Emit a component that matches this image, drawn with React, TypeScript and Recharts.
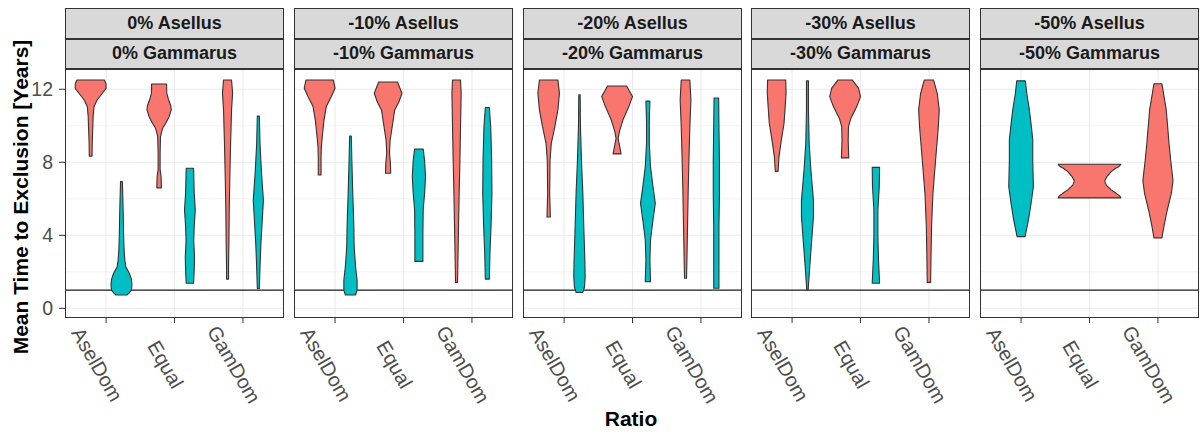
import { ComposedChart, Scatter, XAxis, YAxis, CartesianGrid, ReferenceLine } from 'recharts';

const RED = '#F8766D';
const TEAL = '#00BFC4';
const INK = '#333333';
const FONT = 'Arial, "Liberation Sans", Helvetica, sans-serif';

const stripAsellus = ['0% Asellus', '-10% Asellus', '-20% Asellus', '-30% Asellus', '-50% Asellus'];
const stripGammarus = ['0% Gammarus', '-10% Gammarus', '-20% Gammarus', '-30% Gammarus', '-50% Gammarus'];
const ratios = ['AselDom', 'Equal', 'GamDom'];
const yTicks = [0, 4, 8, 12];
const yMinor = [2, 6, 10];
const exclusionLine = 1;

// violin profiles: [mean time to exclusion, relative half-width], top to bottom
const red0Asel = [[12.51, 0.89], [12.3, 1.0], [12.05, 1.0], [11.78, 0.76], [11.41, 0.42], [11.05, 0.22], [10.5, 0.16], [9.95, 0.14], [9.04, 0.1], [8.34, 0.09]];
const teal0Asel = [[6.94, 0.06], [6.0, 0.09], [5.0, 0.12], [4.0, 0.14], [3.2, 0.17], [2.64, 0.22], [2.27, 0.28], [1.91, 0.52], [1.6, 0.64], [1.33, 0.68], [1.0, 0.65], [0.82, 0.48], [0.73, 0.35]];
const red0Equal = [[12.29, 0.49], [12.0, 0.49], [11.78, 0.5], [11.41, 0.62], [11.1, 0.76], [10.87, 0.79], [10.5, 0.65], [10.14, 0.43], [9.9, 0.25], [9.68, 0.17], [9.4, 0.09], [8.5, 0.065], [7.6, 0.065], [7.2, 0.13], [6.6, 0.15]];
const teal0Equal = [[7.67, 0.24], [7.0, 0.26], [6.3, 0.28], [5.4, 0.35], [4.5, 0.28], [3.7, 0.25], [2.8, 0.3], [2.1, 0.28], [1.37, 0.24]];
const red0Gam = [[12.51, 0.26], [11.78, 0.33], [10.87, 0.26], [9.04, 0.2], [7.2, 0.15], [5.4, 0.11], [3.6, 0.09], [2.3, 0.065], [1.6, 0.065]];
const teal0Gam = [[10.53, 0.065], [9.0, 0.11], [7.5, 0.2], [5.9, 0.33], [5.2, 0.28], [3.6, 0.17], [2.3, 0.11], [1.09, 0.065]];

const red10Asel = [[12.51, 0.89], [12.06, 1.0], [11.6, 0.76], [11.05, 0.43], [10.3, 0.28], [9.4, 0.17], [8.86, 0.11], [8.3, 0.09], [7.3, 0.09]];
const teal10Asel = [[9.44, 0.055], [8.1, 0.09], [6.3, 0.15], [4.5, 0.22], [3.4, 0.24], [2.3, 0.33], [1.55, 0.43], [1.0, 0.43], [0.73, 0.33]];
const red10Equal = [[12.4, 0.61], [11.78, 0.9], [11.3, 0.7], [10.87, 0.43], [10.14, 0.3], [9.2, 0.13], [8.5, 0.09], [7.96, 0.15], [7.4, 0.17]];
const teal10Equal = [[8.72, 0.28], [8.1, 0.37], [7.2, 0.43], [6.3, 0.37], [5.4, 0.28], [4.1, 0.26], [3.2, 0.26], [2.57, 0.26]];
const red10Gam = [[12.51, 0.26], [11.78, 0.3], [9.95, 0.26], [8.1, 0.22], [6.3, 0.17], [4.5, 0.13], [2.6, 0.09], [1.42, 0.065]];
const teal10Gam = [[11.0, 0.13], [9.95, 0.22], [8.1, 0.28], [6.3, 0.3], [4.5, 0.24], [3.05, 0.17], [1.6, 0.13]];

const red20Asel = [[12.51, 0.6], [11.78, 0.7], [10.87, 0.6], [9.95, 0.4], [9.04, 0.17], [8.1, 0.09], [6.3, 0.065], [5.6, 0.09], [5.0, 0.11]];
const teal20Asel = [[11.7, 0.045], [9.95, 0.065], [8.1, 0.13], [6.3, 0.22], [4.5, 0.28], [2.64, 0.35], [1.73, 0.37], [1.18, 0.33], [0.87, 0.22]];
const red20Equal = [[12.18, 0.62], [11.6, 1.0], [11.05, 0.76], [10.3, 0.37], [9.68, 0.15], [9.3, 0.065], [8.95, 0.15], [8.46, 0.26]];
const teal20Equal = [[11.35, 0.13], [10.32, 0.09], [9.04, 0.09], [7.76, 0.17], [6.67, 0.33], [5.75, 0.48], [4.84, 0.33], [3.74, 0.17], [2.64, 0.13], [1.46, 0.17]];
const red20Gam = [[12.51, 0.28], [11.41, 0.35], [9.95, 0.28], [8.1, 0.22], [6.3, 0.17], [4.5, 0.13], [2.64, 0.09], [1.65, 0.065]];
const teal20Gam = [[11.52, 0.15], [9.95, 0.17], [8.1, 0.2], [6.3, 0.2], [4.5, 0.17], [2.64, 0.17], [1.1, 0.17]];

const red30Asel = [[12.51, 0.59], [11.78, 0.61], [10.87, 0.54], [10.14, 0.48], [9.2, 0.3], [8.3, 0.15], [7.5, 0.09]];
const teal30Asel = [[12.47, 0.065], [10.87, 0.065], [9.04, 0.11], [7.6, 0.22], [5.9, 0.39], [5.0, 0.39], [3.56, 0.26], [2.3, 0.15], [1.0, 0.045]];
const red30Equal = [[12.51, 0.46], [12.06, 0.87], [11.6, 1.0], [11.05, 0.76], [10.4, 0.37], [9.95, 0.22], [9.22, 0.2], [8.7, 0.22], [8.24, 0.24]];
const teal30Equal = [[7.72, 0.24], [6.67, 0.22], [5.4, 0.13], [3.9, 0.13], [2.64, 0.17], [1.37, 0.24]];
const red30Gam = [[12.51, 0.3], [11.78, 0.54], [10.87, 0.67], [9.95, 0.61], [8.1, 0.43], [6.3, 0.26], [4.5, 0.17], [2.64, 0.13], [1.42, 0.11]];

const teal50Asel = [[12.46, 0.28], [11.78, 0.37], [10.87, 0.54], [9.95, 0.67], [9.22, 0.76], [8.1, 0.76], [6.67, 0.8], [5.75, 0.65], [4.84, 0.48], [3.93, 0.26]];
const red50Equal = [[7.89, 2.04], [7.76, 1.9], [7.67, 1.7], [7.49, 1.41], [7.21, 1.13], [6.98, 0.98], [6.75, 1.09], [6.49, 1.41], [6.3, 1.74], [6.16, 1.96], [6.05, 2.04]];
const red50Gam = [[12.3, 0.26], [10.87, 0.54], [9.04, 0.72], [8.1, 0.83], [7.0, 0.98], [6.3, 0.87], [5.4, 0.61], [4.5, 0.39], [3.86, 0.26]];

type Violin = { ratio: number; fill: string; side: number; profile: number[][] };

// side: -1 / +1 dodged pair, 0 when only one group is present at that ratio
const panels: Violin[][] = [
  [
    { ratio: 1, fill: RED, side: -1, profile: red0Asel },
    { ratio: 1, fill: TEAL, side: 1, profile: teal0Asel },
    { ratio: 2, fill: RED, side: -1, profile: red0Equal },
    { ratio: 2, fill: TEAL, side: 1, profile: teal0Equal },
    { ratio: 3, fill: RED, side: -1, profile: red0Gam },
    { ratio: 3, fill: TEAL, side: 1, profile: teal0Gam },
  ],
  [
    { ratio: 1, fill: RED, side: -1, profile: red10Asel },
    { ratio: 1, fill: TEAL, side: 1, profile: teal10Asel },
    { ratio: 2, fill: RED, side: -1, profile: red10Equal },
    { ratio: 2, fill: TEAL, side: 1, profile: teal10Equal },
    { ratio: 3, fill: RED, side: -1, profile: red10Gam },
    { ratio: 3, fill: TEAL, side: 1, profile: teal10Gam },
  ],
  [
    { ratio: 1, fill: RED, side: -1, profile: red20Asel },
    { ratio: 1, fill: TEAL, side: 1, profile: teal20Asel },
    { ratio: 2, fill: RED, side: -1, profile: red20Equal },
    { ratio: 2, fill: TEAL, side: 1, profile: teal20Equal },
    { ratio: 3, fill: RED, side: -1, profile: red20Gam },
    { ratio: 3, fill: TEAL, side: 1, profile: teal20Gam },
  ],
  [
    { ratio: 1, fill: RED, side: -1, profile: red30Asel },
    { ratio: 1, fill: TEAL, side: 1, profile: teal30Asel },
    { ratio: 2, fill: RED, side: -1, profile: red30Equal },
    { ratio: 2, fill: TEAL, side: 1, profile: teal30Equal },
    { ratio: 3, fill: RED, side: 0, profile: red30Gam },
  ],
  [
    { ratio: 1, fill: TEAL, side: 0, profile: teal50Asel },
    { ratio: 2, fill: RED, side: 0, profile: red50Equal },
    { ratio: 3, fill: RED, side: 0, profile: red50Gam },
  ],
];

const DODGE = 0.225; // half of the 0.9 dodge width
const HALF_W = 0.225; // half-width of a violin at relative density 1

const PANEL_LEFT = [65, 294, 523, 751, 980];
const PANEL_W = 219;
const STRIP_TOP = 8;
const STRIP_H = 30.5;
const PLOT_TOP = 69;
const PLOT_H = 249;
const CHART_H = 432 - PLOT_TOP;
const Y_AXIS_W = 65;

// closed outline: right edge downwards, then left edge back up
function outline(v: Violin) {
  const cx = v.ratio + v.side * DODGE;
  const right = v.profile.map(([y, w]) => ({ x: cx + w * HALF_W, y }));
  const left = [...v.profile].reverse().map(([y, w]) => ({ x: cx - w * HALF_W, y }));
  return [...right, ...left];
}

const violinPath = (fill: string) => (props: any) => {
  const pts: { x: number; y: number }[] = props.points || [];
  const d = pts.map((p, i) => `${i ? 'L' : 'M'}${p.x},${p.y}`).join('') + 'Z';
  return <path d={d} fill={fill} stroke={INK} strokeWidth={1.1} strokeLinejoin="round" />;
};

const NoDot = () => <g />;

function RatioTick({ x, y, payload }: any) {
  const ax = x - 15;
  const ay = y + 45;
  return (
    <text x={ax} y={ay} transform={`rotate(60, ${ax}, ${ay})`} textAnchor="middle" fill="#4D4D4D" fontSize={20} fontFamily={FONT}>
      {ratios[payload.value - 1]}
    </text>
  );
}

function Panel({ index }: { index: number }) {
  const first = index === 0;
  const left = PANEL_LEFT[index] - (first ? Y_AXIS_W : 0);
  const width = PANEL_W + (first ? Y_AXIS_W : 0);
  return (
    <div style={{ position: 'absolute', left, top: PLOT_TOP }}>
      <ComposedChart width={width} height={CHART_H} margin={{ top: 0, right: 0, bottom: 0, left: 0 }}>
        <CartesianGrid horizontalValues={yMinor} vertical={false} stroke="#EBEBEB" strokeWidth={0.6} />
        <CartesianGrid horizontalValues={yTicks} verticalValues={[1, 2, 3]} stroke="#EBEBEB" strokeWidth={1.1} />
        <XAxis
          type="number"
          dataKey="x"
          domain={[0.4, 3.6]}
          ticks={[1, 2, 3]}
          allowDataOverflow
          interval={0}
          height={CHART_H - PLOT_H}
          axisLine={false}
          tickLine={{ stroke: INK }}
          tickSize={5}
          tickMargin={0}
          tick={<RatioTick />}
        />
        <YAxis
          type="number"
          dataKey="y"
          domain={[-0.53, 13.11]}
          ticks={yTicks}
          allowDataOverflow
          hide={!first}
          width={Y_AXIS_W}
          axisLine={false}
          tickLine={{ stroke: INK }}
          tickSize={6}
          tickMargin={6}
          tick={{ fill: '#4D4D4D', fontSize: 19.5, fontFamily: FONT }}
        />
        {panels[index].map((v, i) => (
          <Scatter
            key={i}
            data={outline(v)}
            fill={v.fill}
            shape={NoDot}
            line={violinPath(v.fill)}
            lineType="joint"
            legendType="none"
            isAnimationActive={false}
          />
        ))}
        <ReferenceLine y={exclusionLine} stroke="#1A1A1A" strokeWidth={1.2} />
      </ComposedChart>
    </div>
  );
}

const stripStyle = (left: number, top: number): React.CSSProperties => ({
  position: 'absolute',
  left,
  top,
  width: PANEL_W,
  height: STRIP_H,
  boxSizing: 'border-box',
  background: '#D9D9D9',
  border: `1px solid ${INK}`,
  display: 'flex',
  alignItems: 'center',
  justifyContent: 'center',
  fontWeight: 'bold',
  fontSize: 18,
  color: '#1A1A1A',
  fontFamily: FONT,
});

export default function App() {
  return (
    <div style={{ position: 'absolute', left: 0, top: 0, width: 1201, height: 432, overflow: 'hidden', background: '#fff', fontFamily: FONT }}>
      {PANEL_LEFT.map((_, i) => <Panel key={i} index={i} />)}
      {PANEL_LEFT.map((x, i) => (
        <div key={`s${i}`}>
          <div style={stripStyle(x, STRIP_TOP)}>{stripAsellus[i]}</div>
          <div style={stripStyle(x, STRIP_TOP + STRIP_H)}>{stripGammarus[i]}</div>
          <div style={{ position: 'absolute', left: x, top: PLOT_TOP, width: PANEL_W, height: PLOT_H, boxSizing: 'border-box', border: `1px solid ${INK}`, pointerEvents: 'none' }} />
        </div>
      ))}
      <svg width={1201} height={432} style={{ position: 'absolute', left: 0, top: 0, pointerEvents: 'none' }}>
        <text x={28} y={197} transform="rotate(-90, 28, 197)" textAnchor="middle" fontWeight="bold" fontSize={21} fill="#000" fontFamily={FONT}>
          Mean Time to Exclusion [Years]
        </text>
        <text x={631} y={426} textAnchor="middle" fontWeight="bold" fontSize={21} fill="#000" fontFamily={FONT}>
          Ratio
        </text>
      </svg>
    </div>
  );
}
